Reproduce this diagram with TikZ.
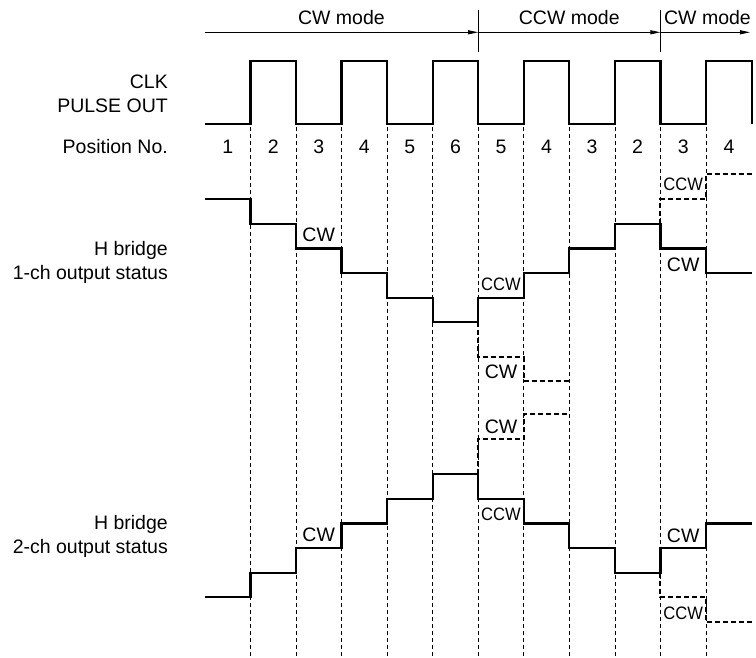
\documentclass[tikz,border=0pt]{standalone}
\usepackage{fontspec}
\setmainfont{Liberation Sans}
\usepackage{graphicx}
\usetikzlibrary{arrows.meta}
\begin{document}
\begin{tikzpicture}[x=1pt,y=-1pt,
  txt/.style={font=\fontsize{19.5}{22}\selectfont, inner sep=0pt},
  ccwlab/.style={font=\fontsize{18}{20}\selectfont, inner sep=0pt},
  wave/.style={line width=2.2pt, line join=miter},
  alt/.style={line width=2pt, dash pattern=on 5pt off 3pt},
  gridl/.style={line width=0.7pt, dash pattern=on 4pt off 3pt},
  thinl/.style={line width=0.9pt}]
\useasboundingbox (0,0) rectangle (756,658);
\fill[white] (0,0) rectangle (756,658);
% grid lines
\foreach \x [count=\i] in {250.4,295.96,341.52,387.08,432.64,478.2,523.76,569.32,614.88,660.44,706.0}{
  \coordinate (g\i t) at (\x,127);
  \coordinate (g\i b) at (\x,657);
  \draw[gridl] (g\i t) -- (g\i b);
}
% mode arrows
\coordinate (m0) at (205,32.3);
\coordinate (m1) at (478.2,32.3);
\coordinate (m2) at (660.44,32.3);
\coordinate (m3) at (750,32.3);
\draw[thinl,-{Triangle[length=10pt,width=4pt]}] (m0) -- (m1);
\draw[thinl,-{Triangle[length=10pt,width=4pt]}] (m1) -- (m2);
\draw[thinl,-{Triangle[length=10pt,width=4pt]}] (m2) -- (m3);
\coordinate (d1t) at (478.2,10); \coordinate (d1b) at (478.2,52.3);
\coordinate (d2t) at (660.44,10); \coordinate (d2b) at (660.44,52.3);
\draw[thinl] (d1t) -- (d1b);
\draw[thinl] (d2t) -- (d2b);
\node[txt, anchor=base] (mode1) at (341.4,25) {CW mode};
\node[txt, anchor=base] (mode2) at (569.3,25) {CCW mode};
\node[txt, anchor=base] (mode3) at (707.5,25) {CW mode};
% left labels
\node[txt, anchor=base east] (clk) at (168,88.3) {CLK};
\node[txt, anchor=base east] (pulse) at (168,112.7) {PULSE OUT};
\node[txt, anchor=base east] (pos) at (168,153.3) {Position No.};
\node[txt, anchor=base east] (hb1) at (168,255) {H bridge};
\node[txt, anchor=base east] (st1) at (168,279.3) {1-ch output status};
\node[txt, anchor=base east] (hb2) at (168,529.3) {H bridge};
\node[txt, anchor=base east] (st2) at (168,553.3) {2-ch output status};
% position numbers
\foreach \x/\n [count=\i] in {227.7/1,273.18/2,318.74/3,364.3/4,409.86/5,455.42/6,500.98/5,546.54/4,592.1/3,637.66/2,683.22/3,729/4}{
  \node[txt, anchor=base] (p\i) at (\x,153.3) {\n};
}
% CLK pulse
\draw[wave] (205,124.3) -- (250.4,124.3) -- (250.4,61) -- (295.96,61) -- (295.96,124.3)
  -- (341.52,124.3) -- (341.52,61) -- (387.08,61) -- (387.08,124.3)
  -- (432.64,124.3) -- (432.64,61) -- (478.2,61) -- (478.2,124.3)
  -- (523.76,124.3) -- (523.76,61) -- (569.32,61) -- (569.32,124.3)
  -- (614.88,124.3) -- (614.88,61) -- (660.44,61) -- (660.44,124.3)
  -- (706.0,124.3) -- (706.0,61) -- (752,61) -- (752,124.3);
% 1-ch
\draw[wave] (205,199.3) -- (250.4,199.3) -- (250.4,223.9) -- (295.96,223.9) -- (295.96,248.5)
  -- (341.52,248.5) -- (341.52,273.1) -- (387.08,273.1) -- (387.08,297.7)
  -- (432.64,297.7) -- (432.64,322.3) -- (478.2,322.3) -- (478.2,297.7)
  -- (523.76,297.7) -- (523.76,273.1) -- (569.32,273.1) -- (569.32,248.5)
  -- (614.88,248.5) -- (614.88,223.9) -- (660.44,223.9) -- (660.44,248.5)
  -- (706.0,248.5) -- (706.0,273.1) -- (752,273.1);
\draw[alt] (478.2,322.3) -- (478.2,357.3) -- (523.76,357.3) -- (523.76,381) -- (569.32,381);
\draw[alt] (660.44,223.9) -- (660.44,199.3) -- (706.0,199.3) -- (706.0,174.3) -- (752,174.3);
% 2-ch
\draw[wave] (205,597.3) -- (250.4,597.3) -- (250.4,572.7) -- (295.96,572.7) -- (295.96,548.1)
  -- (341.52,548.1) -- (341.52,523.5) -- (387.08,523.5) -- (387.08,498.9)
  -- (432.64,498.9) -- (432.64,474.3) -- (478.2,474.3) -- (478.2,498.9)
  -- (523.76,498.9) -- (523.76,523.5) -- (569.32,523.5) -- (569.32,548.1)
  -- (614.88,548.1) -- (614.88,572.7) -- (660.44,572.7) -- (660.44,548.1)
  -- (706.0,548.1) -- (706.0,523.5) -- (752,523.5);
\draw[alt] (478.2,474.3) -- (478.2,439.3) -- (523.76,439.3) -- (523.76,414.3) -- (569.32,414.3);
\draw[alt] (660.44,572.7) -- (660.44,597.3) -- (706.0,597.3) -- (706.0,621.7) -- (752,621.7);
% state labels 1-ch
\node[txt] (a1) at (318.7,234.5) {CW};
\node[ccwlab] (a2) at (501,284.5) {\scalebox{0.92}[1]{CCW}};
\node[txt] (a3) at (501,372) {CW};
\node[ccwlab] (a4) at (683.2,184) {\scalebox{0.92}[1]{CCW}};
\node[txt] (a5) at (683.2,265) {CW};
% state labels 2-ch
\node[txt] (b1) at (318.7,534.5) {CW};
\node[ccwlab] (b2) at (501,514.3) {\scalebox{0.92}[1]{CCW}};
\node[txt] (b3) at (501,426.5) {CW};
\node[ccwlab] (b4) at (683.2,613) {\scalebox{0.92}[1]{CCW}};
\node[txt] (b5) at (683.2,536) {CW};
\end{tikzpicture}
\end{document}
